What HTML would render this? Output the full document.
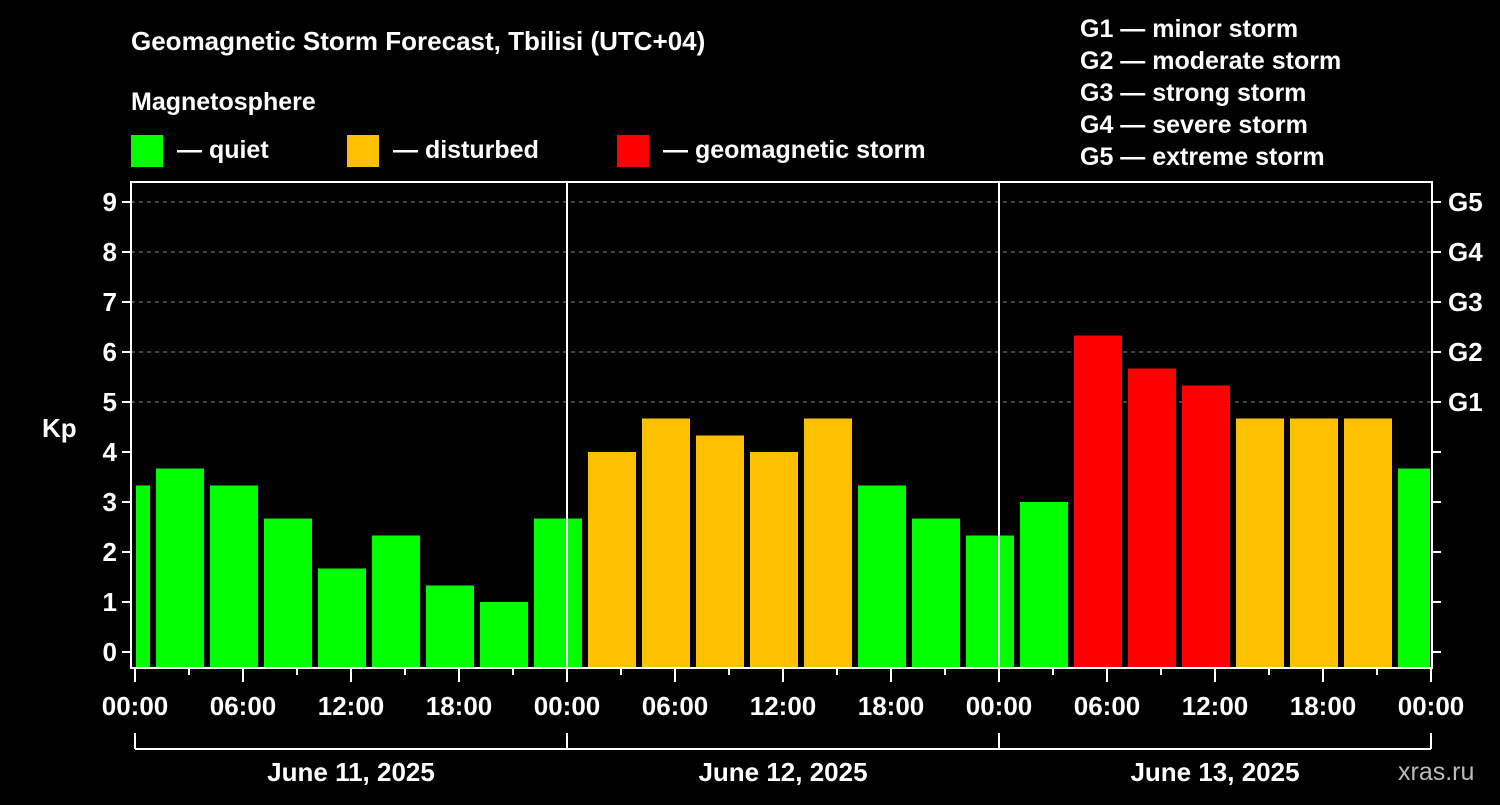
<!DOCTYPE html>
<html><head><meta charset="utf-8"><style>
body{margin:0;background:#000;width:1500px;height:800px;overflow:hidden}
svg text{font-family:"Liberation Sans",Arial,sans-serif;font-weight:bold;fill:#fff}
</style></head><body>
<svg id="chart" width="1500" height="800" xmlns="http://www.w3.org/2000/svg">
<rect width="1500" height="800" fill="#000"/>
<text x="131" y="50" font-size="26">Geomagnetic Storm Forecast, Tbilisi (UTC+04)</text>
<text x="131" y="110" font-size="25">Magnetosphere</text>
<g><rect x="131" y="135" width="32" height="32" fill="#00ff00"/><text x="177" y="158" font-size="25">— quiet</text></g>
<g><rect x="347" y="135" width="32" height="32" fill="#ffc000"/><text x="393" y="158" font-size="25">— disturbed</text></g>
<g><rect x="617" y="135" width="32" height="32" fill="#ff0000"/><text x="663" y="158" font-size="25">— geomagnetic storm</text></g>
<g font-size="25">
<text x="1080" y="37" font-size="25">G1 — minor storm</text>
<text x="1080" y="69" font-size="25">G2 — moderate storm</text>
<text x="1080" y="101" font-size="25">G3 — strong storm</text>
<text x="1080" y="133" font-size="25">G4 — severe storm</text>
<text x="1080" y="165" font-size="25">G5 — extreme storm</text>
</g>
<text x="42" y="437" font-size="26">Kp</text>
<g id="grid"></g><g id="bars"></g><g id="axes"></g>
<text x="1398" y="780" font-size="25" style="fill:#bbb;font-weight:normal">xras.ru</text>
</svg>
<script>
const kpValues=[3.33,3.67,3.33,2.67,1.67,2.33,1.33,1.0,2.67,4.0,4.67,4.33,4.0,4.67,3.33,2.67,2.33,3.0,6.33,5.67,5.33,4.67,4.67,4.67,3.67];
const startHour=-2; // first interval start, local hours from June 11 00:00
const dayLabels=["June 11, 2025","June 12, 2025","June 13, 2025"];
const yTicks=[0,1,2,3,4,5,6,7,8,9];
const gLabels=["G1","G2","G3","G4","G5"];
const xTickLabels=["00:00","06:00","12:00","18:00"];
const NS="http://www.w3.org/2000/svg";
const X0=135,PX_H=18,PL=131,PR=1432,PT=182,PB=668;
const xs=h=>X0+h*PX_H, ys=v=>652-50*v;
function mk(p,t,a){const e=document.createElementNS(NS,t);for(const k in a)e.setAttribute(k,a[k]);p.appendChild(e);return e;}
const grid=document.getElementById('grid'),bars=document.getElementById('bars'),axes=document.getElementById('axes');
for(let v=5;v<=9;v++){const l=mk(grid,'line',{x1:PL,x2:PR,y1:ys(v),y2:ys(v),stroke:'#888','stroke-dasharray':'4,4'});

}
kpValues.forEach((v,i)=>{const h0=startHour+3*i;let x1=xs(h0)+3,x2=xs(h0+3)-3;x1=Math.max(x1,PL+5);x2=Math.min(x2,PR-2);
const c=v>=5?'#ff0000':(v>=4?'#ffc000':'#00ff00');
const r=mk(bars,'rect',{x:x1,y:ys(v),width:x2-x1,height:PB-ys(v),fill:c});

});
const f=mk(axes,'rect',{x:PL,y:PT,width:PR-PL,height:PB-PT,fill:'none',stroke:'#fff','stroke-width':2});


[1,2].forEach(d=>{const l=mk(axes,'line',{x1:xs(24*d),x2:xs(24*d),y1:PT,y2:PB,stroke:'#fff','stroke-width':2});

});
yTicks.forEach(v=>{mk(axes,'line',{x1:PL-9,x2:PL,y1:ys(v),y2:ys(v),stroke:'#fff','stroke-width':2});
mk(axes,'line',{x1:PR,x2:PR+9,y1:ys(v),y2:ys(v),stroke:'#fff','stroke-width':2});
const t=mk(axes,'text',{x:PL-14,y:ys(v)+9,'text-anchor':'end','font-size':26});t.textContent=v;


if(v>=5){const g=mk(axes,'text',{x:PR+16,y:ys(v)+9,'font-size':26});g.textContent=gLabels[v-5];

}});
for(let h=0;h<=72;h+=3){const major=h%6===0;mk(axes,'line',{x1:xs(h),x2:xs(h),y1:PB,y2:PB+(major?14:7),stroke:'#fff','stroke-width':2});
if(major){const t=mk(axes,'text',{x:xs(h),y:715,'text-anchor':'middle','font-size':26});t.textContent=xTickLabels[(h/6)%4];

}}
mk(axes,'line',{x1:xs(0),x2:xs(72),y1:749,y2:749,stroke:'#fff','stroke-width':2});
for(let d=0;d<=3;d++)mk(axes,'line',{x1:xs(24*d),x2:xs(24*d),y1:733,y2:749,stroke:'#fff','stroke-width':2});
dayLabels.forEach((s,d)=>{const t=mk(axes,'text',{x:xs(24*d+12),y:781,'text-anchor':'middle','font-size':26});t.textContent=s;

});
</script>
</body></html>
